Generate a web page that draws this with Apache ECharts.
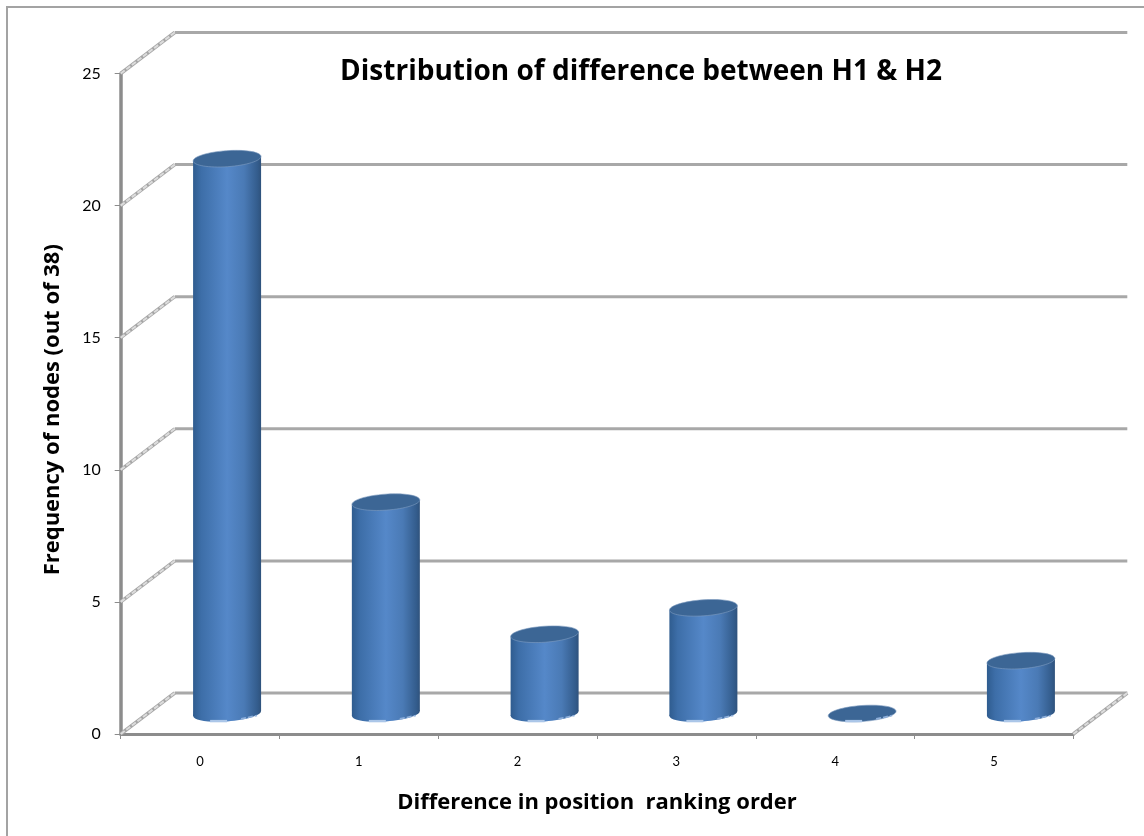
<!DOCTYPE html>
<html>
<head>
<meta charset="utf-8">
<style>html,body{margin:0;padding:0;background:#fff}#chart{width:1144px;height:836px}</style>
<script src="https://cdn.jsdelivr.net/npm/echarts@6/dist/echarts.min.js"></script>
</head>
<body>
<div id="chart"></div>
<script>
// Frequency of nodes by difference in position ranking order
const categories = ['0', '1', '2', '3', '4', '5'];
const frequencies = [21, 8, 3, 4, 0, 2];
const yTicks = [0, 5, 10, 15, 20, 25];

// Oblique projection of the depth axis, in pixels
const DEPTH_X = 54;
const DEPTH_Y = -41;
const RX = 34, RY = 8, TILT = 0.07;

const chart = echarts.init(document.getElementById('chart'), null, {renderer: 'canvas'});

function bodyGradient() {
  return new echarts.graphic.LinearGradient(0, 0, 1, 0, [
    {offset: 0, color: '#2f5c8f'},
    {offset: 0.12, color: '#3d6ea8'},
    {offset: 0.5, color: '#5588c9'},
    {offset: 0.75, color: '#4a7ab5'},
    {offset: 0.95, color: '#335c8c'},
    {offset: 1, color: '#2f527c'}
  ]);
}

function renderWall(params, api) {
  const v = api.value(0);
  const cs = params.coordSys;
  const y = api.coord([0, v])[1];
  const x0 = cs.x, x1 = cs.x + cs.width;
  const backY = y + DEPTH_Y;
  const children = [
    {type: 'line', shape: {x1: x0 + DEPTH_X, y1: backY, x2: x1 + DEPTH_X, y2: backY},
      style: {stroke: '#a8a8a8', lineWidth: 3}},
    {type: 'line', shape: {x1: x0, y1: y, x2: x0 + DEPTH_X, y2: backY},
      style: {stroke: '#a6a6a6', lineWidth: 3.5}},
    {type: 'line', shape: {x1: x0, y1: y, x2: x0 + DEPTH_X, y2: backY},
      style: {stroke: '#dcdcdc', lineWidth: 2, lineDash: [5, 2]}}
  ];
  if (v === 0) {
    children.push(
      {type: 'line', shape: {x1: x1, y1: y, x2: x1 + DEPTH_X, y2: backY},
        style: {stroke: '#a6a6a6', lineWidth: 3.5}},
      {type: 'line', shape: {x1: x1, y1: y, x2: x1 + DEPTH_X, y2: backY},
        style: {stroke: '#dcdcdc', lineWidth: 2, lineDash: [5, 2]}}
    );
  }
  return {type: 'group', children};
}

function renderCylinder(params, api) {
  const base = api.coord([api.value(0), 0]);
  const top = api.coord([api.value(0), api.value(1)]);
  const cx = base[0] + DEPTH_X / 2;
  const by = base[1] + DEPTH_Y / 2;
  const ty = top[1] + DEPTH_Y / 2;
  const dy = RX * Math.sin(TILT);
  const children = [];
  if (ty < by) {
    children.push(
      {type: 'group', x: cx, y: by, rotation: TILT, children: [
        {type: 'ellipse', shape: {cx: 0, cy: 0, rx: RX, ry: RY}, style: {fill: bodyGradient()}}
      ]},
      {type: 'polygon', shape: {points: [
        [cx - RX, ty + dy], [cx + RX, ty - dy], [cx + RX, by - dy], [cx - RX, by + dy]
      ]}, style: {fill: bodyGradient()}}
    );
  }
  children.push(
    {type: 'group', x: cx, y: ty, rotation: TILT, children: [
      {type: 'ellipse', shape: {cx: 0, cy: 0, rx: RX, ry: RY},
        style: {fill: '#3c6695', stroke: '#7f9cc0', lineWidth: 0.6}}
    ]},
    // Light reflections along the lower rim
    {type: 'group', x: cx, y: by, children: [
      {type: 'line', shape: {x1: -17, y1: 7.6, x2: 0, y2: 7.6}, style: {stroke: '#abc6e8', lineWidth: 2.4}},
      {type: 'line', shape: {x1: 14, y1: 5.4, x2: 30, y2: 2}, style: {stroke: '#8eafda', lineWidth: 1.6, lineDash: [5, 2]}}
    ]}
  );
  return {type: 'group', children};
}

chart.setOption({
  animation: false,
  backgroundColor: '#ffffff',
  textStyle: {fontFamily: 'Open Sans'},
  title: {
    text: 'Distribution of difference between H1 & H2',
    left: 636, top: 53, textAlign: 'center',
    textStyle: {fontFamily: 'Open Sans', fontSize: 28, fontWeight: 'bold', color: '#000'}
  },
  graphic: [
    {type: 'line', silent: true, z: -1, shape: {x1: 7, y1: 7, x2: 7, y2: 836},
      style: {stroke: '#a3a3a3', lineWidth: 2}},
    {type: 'line', silent: true, z: -1, shape: {x1: 6, y1: 7, x2: 1144, y2: 7},
      style: {stroke: '#a3a3a3', lineWidth: 2}}
  ],
  grid: {left: 120.7, right: 70.7, top: 73.5, bottom: 102},
  xAxis: {
    type: 'category', data: categories,
    name: 'Difference in position  ranking order', nameLocation: 'middle', nameGap: 58,
    nameTextStyle: {fontFamily: 'Open Sans', fontSize: 22, fontWeight: 'bold', color: '#000'},
    axisLine: {lineStyle: {color: '#8c8c8c', width: 3}},
    axisTick: {show: true, alignWithLabel: false, length: 5, lineStyle: {color: '#8c8c8c', width: 1}},
    axisLabel: {margin: 21, fontFamily: 'Lato', fontSize: 13, color: '#000'},
    splitLine: {show: false}
  },
  yAxis: {
    type: 'value', min: 0, max: 25, interval: 5,
    name: 'Frequency of nodes (out of 38)', nameLocation: 'middle', nameGap: 57,
    nameTextStyle: {fontFamily: 'Open Sans', fontSize: 22, fontWeight: 'bold', color: '#000', padding: [0, 12, 0, 0]},
    axisLine: {show: true, lineStyle: {color: '#8c8c8c', width: 3.5}},
    axisTick: {show: true, length: 6, lineStyle: {color: '#8c8c8c', width: 1}},
    axisLabel: {margin: 20, fontFamily: 'Lato', fontSize: 16, color: '#000'},
    splitLine: {show: false}
  },
  series: [
    {type: 'custom', z: 1, silent: true, clip: false, renderItem: renderWall,
      data: yTicks.map(v => [v])},
    {type: 'custom', z: 3, silent: true, clip: false, renderItem: renderCylinder,
      encode: {x: 0, y: 1},
      data: frequencies.map((f, i) => [i, f])}
  ]
});
</script>
</body>
</html>
